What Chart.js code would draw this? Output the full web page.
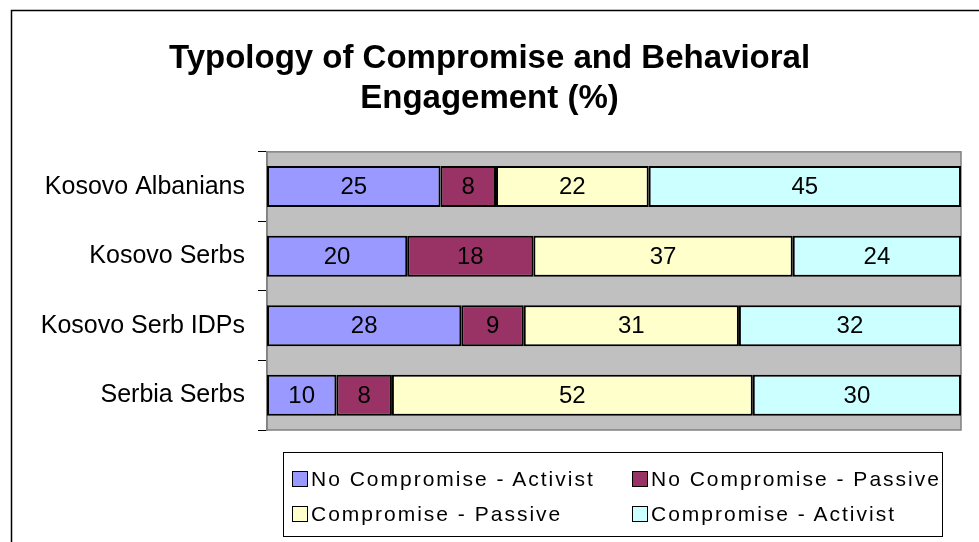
<!DOCTYPE html>
<html lang="en">
  <head>
    <meta charset="UTF-8" />
    <title>Typology of Compromise and Behavioral Engagement</title>
    <script src="https://cdn.jsdelivr.net/npm/chart.js"></script>
    <style>
      body { margin: 0; background: #fff; }
      .wrap { position: relative; width: 979px; height: 542px; overflow: hidden; }
      .legenda {
        position: absolute;
        left: 283px;
        top: 452px;
        width: 660px;
        height: 85px;
        box-sizing: border-box;
        border: 1px solid #000;
        font-family: "Liberation Sans", Arial, sans-serif;
        font-size: 21px;
        letter-spacing: 2px;
        color: #000;
      }
      .legenda .item {
        position: absolute;
        display: flex;
        align-items: center;
        white-space: nowrap;
        line-height: 24px;
      }
      .legenda .kotak {
        width: 16px;
        height: 16px;
        box-sizing: border-box;
        border: 1.5px solid #000;
        margin-right: 3px;
      }
    </style>
  </head>
  <body>
    <div class="wrap">
      <canvas id="chartTipologi" width="979" height="542"></canvas>
      <div class="legenda" id="legenda"></div>
    </div>

    <script>
      const kategori = [
        "Kosovo Albanians",
        "Kosovo Serbs",
        "Kosovo Serb IDPs",
        "Serbia Serbs",
      ];
      const namaSeri = [
        "No Compromise - Activist",
        "No Compromise - Passive",
        "Compromise - Passive",
        "Compromise - Activist",
      ];
      const noCompActivist = [25, 20, 28, 10];
      const noCompPassive = [8, 18, 9, 8];
      const compPassive = [22, 37, 31, 52];
      const compActivist = [45, 24, 32, 30];
      const warna = ["#9999FF", "#993366", "#FFFFCC", "#CCFFFF"];

      const nilai = [noCompActivist, noCompPassive, compPassive, compActivist];
      // 100% stacked: tiap baris dinormalisasi ke total baris
      const total = kategori.map((_, j) =>
        nilai.reduce((s, seri) => s + seri[j], 0)
      );

      const FONT = "'Liberation Sans', Arial, sans-serif";

      const latarPlot = {
        id: "latarPlot",
        beforeDraw(chart) {
          const { ctx, chartArea: a } = chart;
          ctx.save();
          // bingkai luar
          ctx.strokeStyle = "#000";
          ctx.lineWidth = 1.5;
          ctx.beginPath();
          ctx.moveTo(11.5, 542);
          ctx.lineTo(11.5, 10.5);
          ctx.lineTo(979, 10.5);
          ctx.stroke();
          // area plot abu-abu
          ctx.fillStyle = "#C0C0C0";
          ctx.fillRect(a.left, a.top, a.right - a.left, a.bottom - a.top);
          ctx.strokeStyle = "#808080";
          ctx.lineWidth = 1.5;
          ctx.strokeRect(a.left, a.top, a.right - a.left, a.bottom - a.top);
          ctx.restore();
        },
      };

      const labelNilai = {
        id: "labelNilai",
        afterDatasetsDraw(chart) {
          const { ctx } = chart;
          ctx.save();
          ctx.font = "24px " + FONT;
          ctx.fillStyle = "#000";
          ctx.textAlign = "center";
          ctx.textBaseline = "middle";
          chart.data.datasets.forEach((ds, i) => {
            chart.getDatasetMeta(i).data.forEach((bar, j) => {
              const p = bar.getProps(["x", "y", "base"], true);
              ctx.fillText(String(ds.mentah[j]), (p.x + p.base) / 2, p.y + 1);
            });
          });
          ctx.restore();
        },
      };

      const chart = new Chart(document.getElementById("chartTipologi"), {
        type: "bar",
        data: {
          labels: kategori,
          datasets: namaSeri.map((nama, i) => ({
            label: nama,
            data: nilai[i].map((v, j) => (v / total[j]) * 100),
            mentah: nilai[i],
            backgroundColor: warna[i],
            borderColor: "#000",
            borderWidth: 2,
            borderSkipped: false,
            barPercentage: 0.59,
            categoryPercentage: 1,
          })),
        },
        options: {
          indexAxis: "y",
          responsive: false,
          animation: false,
          layout: { padding: { top: 0, left: 18, right: 18, bottom: 112 } },
          plugins: {
            legend: { display: false },
            tooltip: { enabled: false },
            title: {
              display: true,
              text: ["Typology of Compromise and Behavioral", "Engagement (%)"],
              color: "#000",
              font: { family: FONT, size: 33, weight: "bold", lineHeight: 1.24 },
              padding: { top: 38, bottom: 32 },
            },
          },
          scales: {
            x: { display: false, stacked: true, min: 0, max: 100 },
            y: {
              stacked: true,
              afterFit(scale) {
                scale.width = 249;
              },
              grid: {
                drawOnChartArea: false,
                drawTicks: true,
                tickLength: 9,
                color: "#000",
                offset: true,
              },
              border: { color: "#808080", width: 1.5 },
              ticks: {
                color: "#000",
                padding: 13,
                font: { family: FONT, size: 25 },
              },
            },
          },
        },
        plugins: [latarPlot, labelNilai],
      });

      // legenda HTML dua kolom
      const legenda = document.getElementById("legenda");
      const posisi = [
        [8, 14],
        [348, 14],
        [8, 49],
        [348, 49],
      ];
      chart.data.datasets.forEach((ds, i) => {
        const item = document.createElement("div");
        item.className = "item";
        item.style.left = posisi[i][0] + "px";
        item.style.top = posisi[i][1] + "px";
        const kotak = document.createElement("span");
        kotak.className = "kotak";
        kotak.style.background = ds.backgroundColor;
        const teks = document.createElement("span");
        teks.textContent = ds.label;
        item.appendChild(kotak);
        item.appendChild(teks);
        legenda.appendChild(item);
      });
    </script>
  </body>
</html>
